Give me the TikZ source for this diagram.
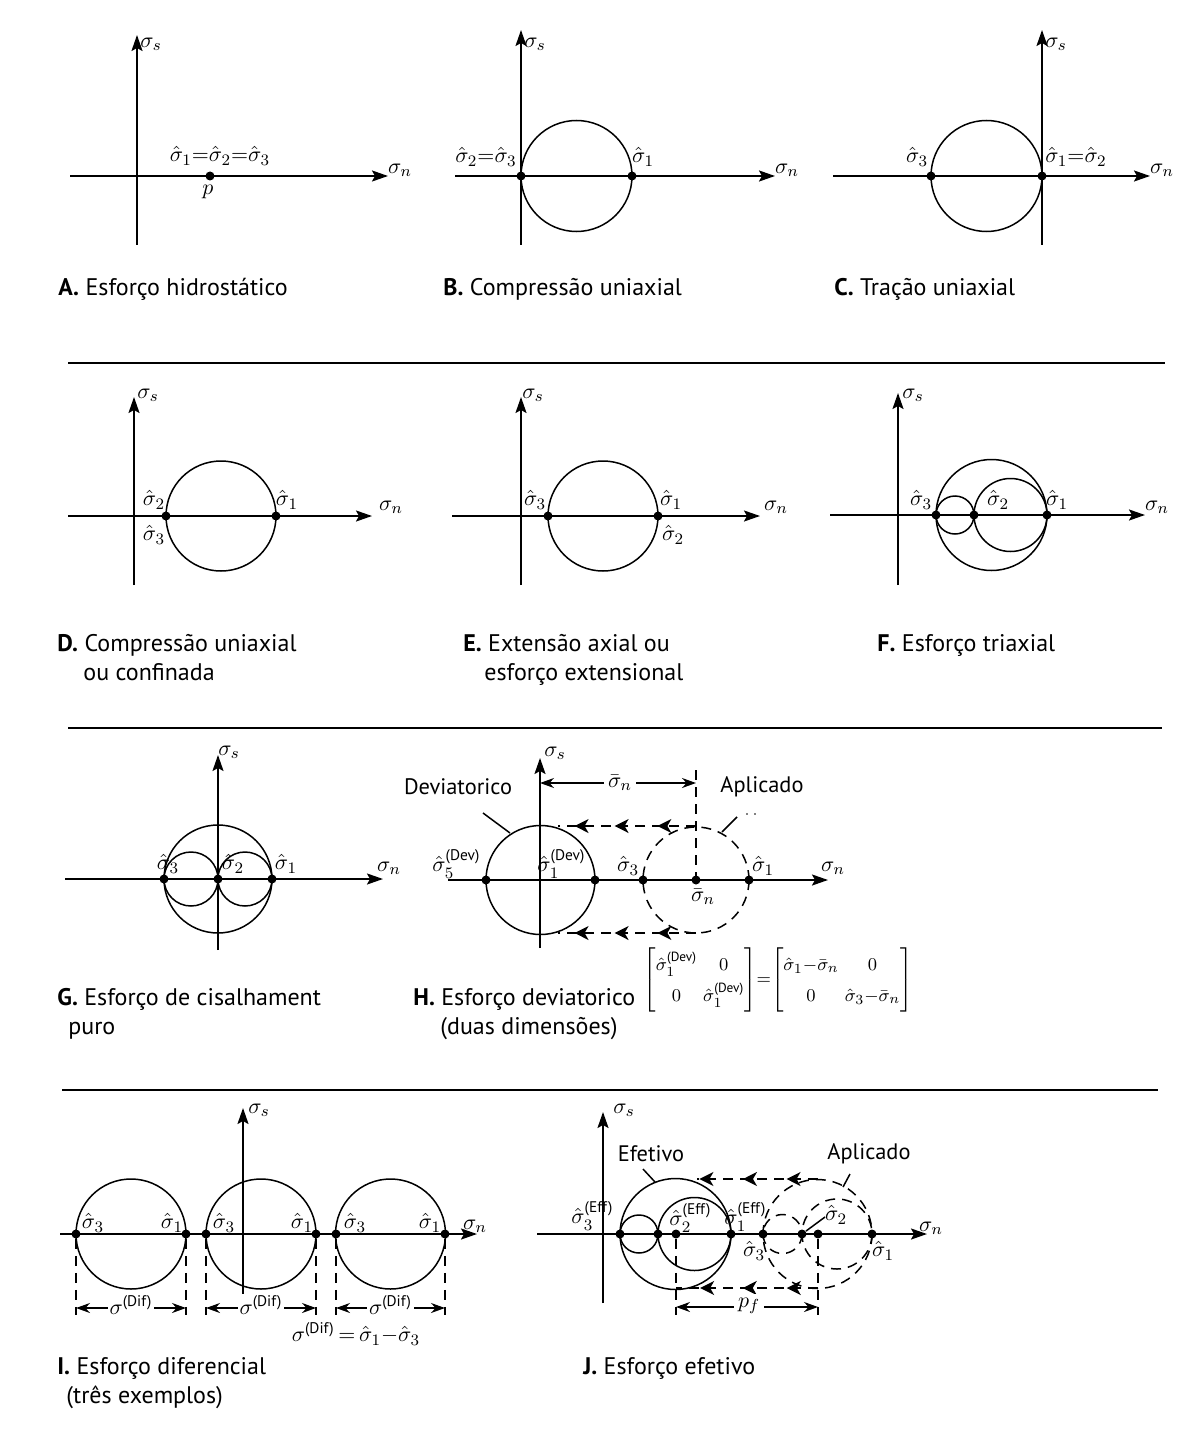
\documentclass[tikz,border=0pt]{standalone}
\usepackage{amsmath}
\usepackage{fontspec}
\setsansfont{PT Sans}
\newfontfamily\capfont{PT Sans}
\usetikzlibrary{arrows.meta,decorations.markings}
\tikzset{bigtip/.tip={Stealth[length=7pt,width=7pt,inset=2pt]}}
\begin{document}
\begin{tikzpicture}[x=0.5pt,y=-0.5pt,
  ax/.style={line width=1pt,-{Stealth[length=8pt,width=5.5pt,inset=1.5pt]}},
  circ/.style={line width=0.75pt},
  dcirc/.style={line width=0.75pt,dash pattern=on 5pt off 3.5pt},
  ptdot/.style={circle,fill,inner sep=0pt,minimum size=4.5pt},
  lab/.style={inner sep=0pt,font=\fontsize{11}{13}\selectfont},
  captxt/.style={anchor=base west,inner sep=0pt,font=\capfont\fontsize{12}{14}\selectfont},
  word/.style={inner sep=0pt,font=\capfont\fontsize{11.2}{13}\selectfont},
  sepline/.style={line width=1pt},
  dimarr/.style={line width=0.75pt,{Stealth[length=7pt,width=5pt]}-{Stealth[length=7pt,width=5pt]}},
  vdash/.style={line width=0.75pt,dash pattern=on 5pt off 3.5pt}
]
\useasboundingbox (0,0) rectangle (1180,1455);

% separators
\coordinate (s1a) at (68,363); \coordinate (s1b) at (1165,363);
\coordinate (s2a) at (68,728); \coordinate (s2b) at (1162,728);
\coordinate (s3a) at (62,1090); \coordinate (s3b) at (1158,1090);
\draw[sepline] (s1a) -- (s1b);
\draw[sepline] (s2a) -- (s2b);
\draw[sepline] (s3a) -- (s3b);

% ---------- A ----------
\coordinate (Ay0) at (137,245); \coordinate (Ay1) at (137,35);
\coordinate (Ax0) at (70,176); \coordinate (Ax1) at (388,176);
\draw[ax] (Ay0) -- (Ay1);
\draw[ax] (Ax0) -- (Ax1);
\node[ptdot] (Ap) at (210,176) {};
\node[lab] (Al1) at (220,156) {$\hat\sigma_1{=}\hat\sigma_2{=}\hat\sigma_3$};
\node[lab] (Alp) at (208,192) {$p$};
\node[lab] (Als) at (151,44) {$\sigma_s$};
\node[lab] (Aln) at (400,170) {$\sigma_n$};
\node[captxt] (Acap) at (58,295) {\textbf{A.} Esforço hidrostático};

% ---------- B ----------
\coordinate (By0) at (521,245); \coordinate (By1) at (521,30);
\coordinate (Bx0) at (455,176); \coordinate (Bx1) at (775,176);
\draw[ax] (By0) -- (By1);
\draw[ax] (Bx0) -- (Bx1);
\draw[circ] (576.5,176) circle (55.5);
\node[ptdot] (Bp3) at (521,176) {};
\node[ptdot] (Bp1) at (632,176) {};
\node[lab] (Bl23) at (486,157) {$\hat\sigma_2{=}\hat\sigma_3$};
\node[lab] (Bl1) at (643,157) {$\hat\sigma_1$};
\node[lab] (Bls) at (535,44) {$\sigma_s$};
\node[lab] (Bln) at (787,170) {$\sigma_n$};
\node[captxt] (Bcap) at (443,295) {\textbf{B.} Compressão uniaxial};

% ---------- C ----------
\coordinate (Cy0) at (1042,245); \coordinate (Cy1) at (1042,30);
\coordinate (Cx0) at (833,176); \coordinate (Cx1) at (1150,176);
\draw[ax] (Cy0) -- (Cy1);
\draw[ax] (Cx0) -- (Cx1);
\draw[circ] (986.5,176) circle (55.5);
\node[ptdot] (Cp3) at (931,176) {};
\node[ptdot] (Cp1) at (1042,176) {};
\node[lab] (Cl3) at (917,157) {$\hat\sigma_3$};
\node[lab] (Cl12) at (1076,157) {$\hat\sigma_1{=}\hat\sigma_2$};
\node[lab] (Cls) at (1056,44) {$\sigma_s$};
\node[lab] (Cln) at (1162,170) {$\sigma_n$};
\node[captxt] (Ccap) at (834,295) {\textbf{C.} Tração uniaxial};

% ---------- D ----------
\coordinate (Dy0) at (134,585); \coordinate (Dy1) at (134,397);
\coordinate (Dx0) at (68,516); \coordinate (Dx1) at (372,516);
\draw[ax] (Dy0) -- (Dy1);
\draw[ax] (Dx0) -- (Dx1);
\draw[circ] (221,516) circle (55);
\node[ptdot] (Dp3) at (166,516) {};
\node[ptdot] (Dp1) at (276,516) {};
\node[lab] (Dl2) at (154,500) {$\hat\sigma_2$};
\node[lab] (Dl3) at (154,535) {$\hat\sigma_3$};
\node[lab] (Dl1) at (287,500) {$\hat\sigma_1$};
\node[lab] (Dls) at (148,395) {$\sigma_s$};
\node[lab] (Dln) at (391,507) {$\sigma_n$};
\node[captxt] (Dcap) at (57,651) {\textbf{D.} Compressão uniaxial};
\node[captxt] (Dcap2) at (83,680) {ou confinada};

% ---------- E ----------
\coordinate (Ey0) at (521,585); \coordinate (Ey1) at (521,397);
\coordinate (Ex0) at (452,516); \coordinate (Ex1) at (760,516);
\draw[ax] (Ey0) -- (Ey1);
\draw[ax] (Ex0) -- (Ex1);
\draw[circ] (603,516) circle (55);
\node[ptdot] (Ep3) at (548,516) {};
\node[ptdot] (Ep1) at (658,516) {};
\node[lab] (El3) at (535,500) {$\hat\sigma_3$};
\node[lab] (El1) at (671,500) {$\hat\sigma_1$};
\node[lab] (El2) at (673,535) {$\hat\sigma_2$};
\node[lab] (Els) at (533,395) {$\sigma_s$};
\node[lab] (Eln) at (776,507) {$\sigma_n$};
\node[captxt] (Ecap) at (463,651) {\textbf{E.} Extensão axial ou};
\node[captxt] (Ecap2) at (484,680) {esforço extensional};

% ---------- F ----------
\coordinate (Fy0) at (898,585); \coordinate (Fy1) at (898,393);
\coordinate (Fx0) at (830,515); \coordinate (Fx1) at (1145,515);
\draw[ax] (Fy0) -- (Fy1);
\draw[ax] (Fx0) -- (Fx1);
\draw[circ] (991.5,515) circle (55.5);
\draw[circ] (955,515) circle (19);
\draw[circ] (1010.5,515) circle (36.5);
\node[ptdot] (Fp3) at (936,515) {};
\node[ptdot] (Fp2) at (974,515) {};
\node[ptdot] (Fp1) at (1047,515) {};
\node[lab] (Fl3) at (921,500) {$\hat\sigma_3$};
\node[lab] (Fl2) at (998,500) {$\hat\sigma_2$};
\node[lab] (Fl1) at (1057,500) {$\hat\sigma_1$};
\node[lab] (Fls) at (913,395) {$\sigma_s$};
\node[lab] (Fln) at (1157,507) {$\sigma_n$};
\node[captxt] (Fcap) at (877,651) {\textbf{F.} Esforço triaxial};

% ---------- G ----------
\coordinate (Gy0) at (218,950); \coordinate (Gy1) at (218,755);
\coordinate (Gx0) at (65,879); \coordinate (Gx1) at (383,879);
\draw[ax] (Gy0) -- (Gy1);
\draw[ax] (Gx0) -- (Gx1);
\draw[circ] (218,879) circle (54);
\draw[circ] (191,879) circle (27);
\draw[circ] (245,879) circle (27);
\node[ptdot] (Gp3) at (164,879) {};
\node[ptdot] (Gp2) at (218,879) {};
\node[ptdot] (Gp1) at (272,879) {};
\node[lab] (Gl3) at (168,864) {$\hat\sigma_3$};
\node[lab] (Gl2) at (233,864) {$\hat\sigma_2$};
\node[lab] (Gl1) at (286,864) {$\hat\sigma_1$};
\node[lab] (Gls) at (229,752) {$\sigma_s$};
\node[lab] (Gln) at (389,868) {$\sigma_n$};
\node[captxt] (Gcap) at (57,1005) {\textbf{G.} Esforço de cisalhament};
\node[captxt] (Gcap2) at (68,1034) {puro};

% ---------- H ----------
\coordinate (Hy0) at (540,948); \coordinate (Hy1) at (540,758);
\coordinate (Hx0) at (448,880); \coordinate (Hx1) at (828,880);
\draw[ax] (Hy0) -- (Hy1);
\draw[ax] (Hx0) -- (Hx1);
\draw[circ] (540.5,880) circle (54.5);
\draw[dcirc] (696,880) circle (53);
\coordinate (Hv0) at (696,770); \coordinate (Hv1) at (696,880);
\draw[vdash] (Hv0) -- (Hv1);
% dashed transfer arrows
\coordinate (Ht0) at (696,826); \coordinate (Ht1) at (558,826);
\coordinate (Hb0) at (696,933); \coordinate (Hb1) at (558,933);
\draw[vdash,postaction={decorate},decoration={markings,
   mark=at position 0.28 with {\arrow{bigtip}},
   mark=at position 0.59 with {\arrow{bigtip}},
   mark=at position 0.88 with {\arrow{bigtip}}}] (Ht0) -- (Ht1);
\draw[vdash,postaction={decorate},decoration={markings,
   mark=at position 0.28 with {\arrow{bigtip}},
   mark=at position 0.59 with {\arrow{bigtip}},
   mark=at position 0.88 with {\arrow{bigtip}}}] (Hb0) -- (Hb1);
% sigma-bar dimension
\coordinate (Hd0) at (540,783); \coordinate (Hd1) at (696,783);
\draw[dimarr] (Hd0) -- (Hd1);
\node[lab,fill=white,inner sep=2pt] (Hdl) at (620,783) {$\bar\sigma_n$};
\node[ptdot] (Hp3d) at (486,880) {};
\node[ptdot] (Hp1d) at (595,880) {};
\node[ptdot] (Hp3) at (643,880) {};
\node[ptdot] (Hpm) at (696,880) {};
\node[ptdot] (Hp1) at (749,880) {};
\node[lab,anchor=west] (Hl3d) at (432,864) {$\hat\sigma_5^{\textsf{(Dev)}}$};
\node[lab,anchor=west] (Hl1d) at (537,864) {$\hat\sigma_1^{\textsf{(Dev)}}$};
\node[lab] (Hl3) at (628,866) {$\hat\sigma_3$};
\node[lab] (Hl1) at (763,866) {$\hat\sigma_1$};
\node[lab] (Hlm) at (703,897) {$\bar\sigma_n$};
\node[lab] (Hls) at (555,753) {$\sigma_s$};
\node[lab] (Hln) at (833,868) {$\sigma_n$};
\node[word] (Hdev) at (458,787) {Deviatorico};
\node[word] (Hapl) at (762,787) {Aplicado};
\coordinate (Hdl0) at (483,813); \coordinate (Hdl1) at (510,833);
\draw[circ] (Hdl0) -- (Hdl1);
\coordinate (Hal0) at (737,817); \coordinate (Hal1) at (722,832);
\draw[circ] (Hal0) -- (Hal1);
\fill (747,814) circle (0.8);
\fill (755,814) circle (0.8);
\node[inner sep=0pt,font=\fontsize{9.5}{11}\selectfont] (Hmat) at (778,980)
 {\setlength{\arraycolsep}{1.5pt}\renewcommand{\arraystretch}{1.4}%
 $\begin{bmatrix}\hat\sigma_1^{\textsf{(Dev)}} & 0\\ 0 & \hat\sigma_1^{\textsf{(Dev)}}\end{bmatrix}
 \!{=}\!\begin{bmatrix}\hat\sigma_1{-}\bar\sigma_n & 0\\ 0 & \hat\sigma_3{-}\bar\sigma_n\end{bmatrix}$};
\node[captxt] (Hcap) at (413,1005) {\textbf{H.} Esforço deviatorico};
\node[captxt] (Hcap2) at (440,1034) {(duas dimensões)};

% ---------- I ----------
\coordinate (Iy0) at (243,1300); \coordinate (Iy1) at (243,1108);
\coordinate (Ix0) at (60,1234); \coordinate (Ix1) at (477,1234);
\draw[ax] (Iy0) -- (Iy1);
\draw[ax] (Ix0) -- (Ix1);
\foreach \c/\l/\r/\n in {131/76/186/a,261/206/316/b,390.5/336/445/c}{
  \draw[circ] (\c,1234) circle (55);
  \node[ptdot] (Ip3\n) at (\l,1234) {};
  \node[ptdot] (Ip1\n) at (\r,1234) {};
  \coordinate (Ilb\n) at (\l,1315);
  \coordinate (Irb\n) at (\r,1315);
  \draw[vdash] (Ip3\n) -- (Ilb\n);
  \draw[vdash] (Ip1\n) -- (Irb\n);
  \coordinate (Ida\n) at (\l,1308);
  \coordinate (Idb\n) at (\r,1308);
  \draw[dimarr] (Ida\n) -- (Idb\n);
  \node[lab,fill=white,inner sep=1pt] (Idl\n) at (\c,1305) {$\sigma^{\textsf{(Dif)}}$};
}
\node[lab] (Il3a) at (93,1223) {$\hat\sigma_3$};
\node[lab] (Il1a) at (172,1223) {$\hat\sigma_1$};
\node[lab] (Il3b) at (224,1223) {$\hat\sigma_3$};
\node[lab] (Il1b) at (302,1223) {$\hat\sigma_1$};
\node[lab] (Il3c) at (355,1223) {$\hat\sigma_3$};
\node[lab] (Il1c) at (430,1223) {$\hat\sigma_1$};
\node[lab] (Ils) at (259,1110) {$\sigma_s$};
\node[lab] (Iln) at (475,1226) {$\sigma_n$};
\node[lab] (Iform) at (356,1334) {$\sigma^{\textsf{(Dif)}}\,{=}\,\hat\sigma_1{-}\hat\sigma_3$};
\node[captxt] (Icap) at (57,1374) {\textbf{I.} Esforço diferencial};
\node[captxt] (Icap2) at (66,1403) {(três exemplos)};

% ---------- J ----------
\coordinate (Jy0) at (603,1303); \coordinate (Jy1) at (603,1112);
\coordinate (Jx0) at (537,1234); \coordinate (Jx1) at (927,1234);
\draw[ax] (Jy0) -- (Jy1);
\draw[ax] (Jx0) -- (Jx1);
\draw[circ] (675.5,1234) circle (55.5);
\draw[circ] (639,1234) circle (19);
\draw[circ] (694.5,1234) circle (36.5);
\draw[dcirc] (817.5,1234) circle (54.5);
\draw[dcirc] (782.5,1234) circle (19.5);
\draw[dcirc] (837,1234) circle (35);
\node[ptdot] (Jp3e) at (620,1234) {};
\node[ptdot] (Jp2e) at (658,1234) {};
\node[ptdot] (Jpm) at (676,1234) {};
\node[ptdot] (Jp1e) at (731,1234) {};
\node[ptdot] (Jp3) at (763,1234) {};
\node[ptdot] (Jp2) at (802,1234) {};
\node[ptdot] (Jpa) at (818,1234) {};
\node[ptdot] (Jp1) at (872,1234) {};
\coordinate (Jvl) at (676,1315);
\coordinate (Jvr) at (818,1315);
\draw[vdash] (Jpm) -- (Jvl);
\draw[vdash] (Jpa) -- (Jvr);
\coordinate (Jt0) at (818,1179); \coordinate (Jt1) at (697,1179);
\coordinate (Jb0) at (818,1288); \coordinate (Jb1) at (676,1288);
\draw[vdash,postaction={decorate},decoration={markings,
   mark=at position 0.26 with {\arrow{bigtip}},
   mark=at position 0.62 with {\arrow{bigtip}},
   mark=at position 0.98 with {\arrow{bigtip}}}] (Jt0) -- (Jt1);
\draw[vdash,postaction={decorate},decoration={markings,
   mark=at position 0.22 with {\arrow{bigtip}},
   mark=at position 0.53 with {\arrow{bigtip}},
   mark=at position 0.83 with {\arrow{bigtip}}}] (Jb0) -- (Jb1);
\coordinate (Jd0) at (676,1307); \coordinate (Jd1) at (818,1307);
\draw[dimarr] (Jd0) -- (Jd1);
\node[lab,fill=white,inner sep=2pt] (Jdl) at (749,1306) {$p_f$};
\node[lab,anchor=west] (Jl3e) at (571,1216) {$\hat\sigma_3^{\textsf{(Eff)}}$};
\node[lab,anchor=west] (Jl2e) at (669,1218) {$\hat\sigma_2^{\textsf{(Eff)}}$};
\node[lab,anchor=west] (Jl1e) at (724,1217) {$\hat\sigma_1^{\textsf{(Eff)}}$};
\node[lab] (Jl3) at (754,1251) {$\hat\sigma_3$};
\node[lab] (Jl2) at (836,1215) {$\hat\sigma_2$};
\node[lab] (Jl1) at (883,1251) {$\hat\sigma_1$};
\coordinate (Jll) at (825,1217);
\draw[circ] (Jp2) -- (Jll);
\node[lab] (Jls) at (624,1110) {$\sigma_s$};
\node[lab] (Jln) at (931,1228) {$\sigma_n$};
\node[word] (Jeff) at (651,1154) {Efetivo};
\node[word] (Japl) at (869,1154) {Aplicado};
\coordinate (Jel0) at (643,1169); \coordinate (Jel1) at (655,1182);
\draw[circ] (Jel0) -- (Jel1);
\coordinate (Jal0) at (850,1174); \coordinate (Jal1) at (843,1187);
\draw[circ] (Jal0) -- (Jal1);
\node[captxt] (Jcap) at (583,1374) {\textbf{J.} Esforço efetivo};
\end{tikzpicture}
\end{document}
